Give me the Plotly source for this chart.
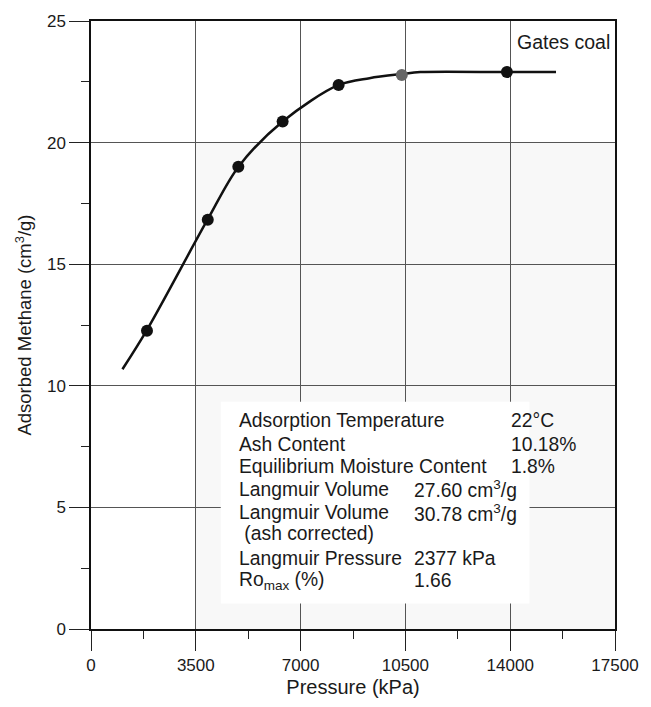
import plotly.graph_objects as go

# ---- data ----
point_pressure = [1870, 3900, 4920, 6400, 8270, 10380, 13890]
point_methane = [12.26, 16.83, 19.01, 20.87, 22.37, 22.78, 22.90]
point_colors = ["#111111", "#111111", "#111111", "#111111", "#111111", "#666666", "#111111"]

curve_pressure = [1050, 1870, 3900, 4920, 6400, 8270, 9300, 10380, 11000, 13890, 15530]
curve_methane = [10.68, 12.30, 16.85, 19.00, 20.87, 22.37, 22.65, 22.82, 22.90, 22.90, 22.90]

x_ticks = [0, 3500, 7000, 10500, 14000, 17500]
y_ticks = [0, 5, 10, 15, 20, 25]

info_labels = ["Adsorption Temperature", "Ash Content", "Equilibrium Moisture Content",
               "Langmuir Volume", "Langmuir Volume", " (ash corrected)",
               "Langmuir Pressure", "Ro<sub>max</sub> (%)"]
info_values = ["22°C", "10.18%", "1.8%", "27.60 cm<sup>3</sup>/g", "30.78 cm<sup>3</sup>/g",
               "", "2377 kPa", "1.66"]

FONT = "Liberation Sans, Arial, Helvetica, sans-serif"

# pixel helpers (layout geometry)
X0, X1, Y0, Y1 = 91, 624, 634, 16
def px2x(px):
    return (px - X0) / (X1 - X0) * 17500
def py2y(py):
    return (Y0 - py) / (Y0 - Y1) * 25

fig = go.Figure()

fig.add_trace(go.Scatter(x=curve_pressure, y=curve_methane, mode="lines",
                         line=dict(color="#111111", width=2.5, shape="spline", smoothing=0.9),
                         hoverinfo="skip", showlegend=False))
fig.add_trace(go.Scatter(x=point_pressure, y=point_methane, mode="markers",
                         marker=dict(color=point_colors, size=12),
                         showlegend=False))

# faint scanned-grey region
fig.add_shape(type="rect", xref="x", yref="y", x0=3500, x1=17500, y0=0, y1=20,
              fillcolor="#f8f8f8", line=dict(width=0), layer="below")
# white info box hiding grid lines
fig.add_shape(type="rect", xref="x", yref="y", x0=px2x(223), x1=px2x(537),
              y0=py2y(608), y1=py2y(403), fillcolor="white", line=dict(width=0),
              layer="between")

TXT = 19.3
row_y = [422, 446, 469, 492, 516, 537, 562, 585]
label_x = [239, 239, 239, 239, 239, 239, 239, 239]
value_x = [516, 516, 516, 417, 417, 417, 417, 417]
for lab, val, ry, lx, vx in zip(info_labels, info_values, row_y, label_x, value_x):
    fig.add_annotation(x=px2x(lx), y=py2y(ry), xref="x", yref="y", text=lab,
                       showarrow=False, xanchor="left", yanchor="middle",
                       font=dict(family=FONT, size=TXT, color="#1a1a1a"))
    if val:
        fig.add_annotation(x=px2x(vx), y=py2y(ry), xref="x", yref="y", text=val,
                           showarrow=False, xanchor="left", yanchor="middle",
                           font=dict(family=FONT, size=TXT, color="#1a1a1a"))

fig.add_annotation(x=px2x(621), y=py2y(37), xref="x", yref="y", text="Gates coal",
                   showarrow=False, xanchor="right", yanchor="middle",
                   font=dict(family=FONT, size=19.5, color="#1a1a1a"))

axis_common = dict(showline=True, linecolor="#111111", linewidth=1.5, mirror=True,
                   showgrid=True, gridcolor="#555555", gridwidth=1, zeroline=False,
                   ticks="outside", ticklen=20, tickwidth=1, tickcolor="#222222",
                   tickfont=dict(family=FONT, size=17, color="#1a1a1a"))

fig.update_xaxes(range=[0, 17500], tickvals=x_ticks, ticktext=[str(v) for v in x_ticks],
                 minor=dict(ticks="outside", ticklen=8, dtick=1750, tick0=0, tickcolor="#222222", showgrid=False),
                 title=dict(text="Pressure (kPa)", font=dict(family=FONT, size=20, color="#1a1a1a"), standoff=6),
                 **axis_common)
fig.update_yaxes(range=[0, 25], tickvals=y_ticks, ticktext=[str(v) for v in y_ticks],
                 minor=dict(ticks="outside", ticklen=8, dtick=2.5, tick0=0, tickcolor="#222222", showgrid=False),
                 title=dict(text="Adsorbed Methane (cm<sup>3</sup>/g)", font=dict(family=FONT, size=18.5, color="#1a1a1a"), standoff=10),
                 **axis_common)

fig.update_layout(width=651, height=707, margin=dict(l=X0, r=651 - X1, t=Y1, b=707 - Y0),
                  paper_bgcolor="white", plot_bgcolor="white", showlegend=False)

fig.write_html("out.html")
